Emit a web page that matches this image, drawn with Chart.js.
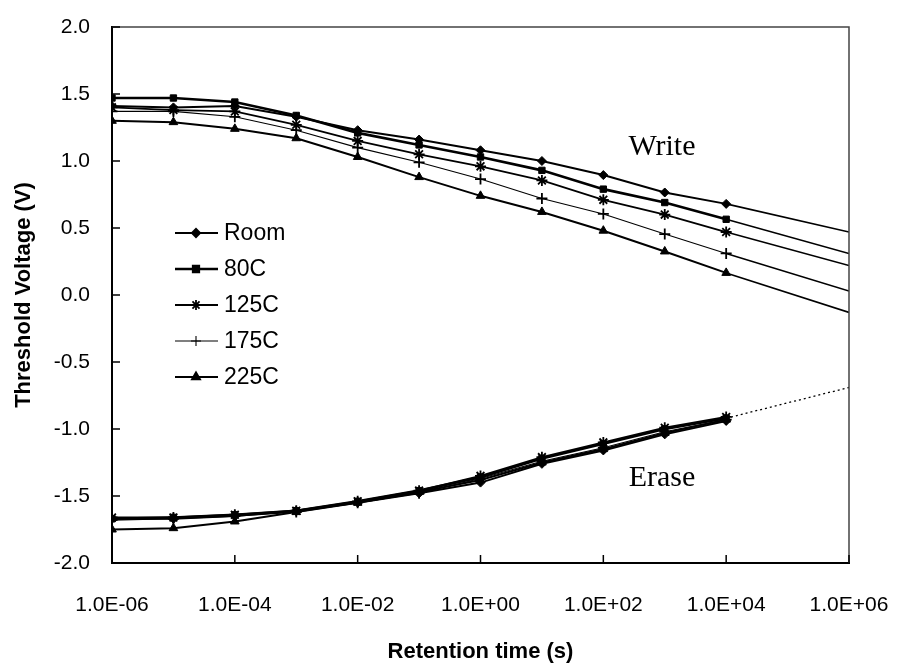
<!DOCTYPE html>
<html>
<head>
<meta charset="utf-8">
<title>Threshold voltage retention</title>
<script src="https://cdn.jsdelivr.net/npm/chart.js@4.4.0/dist/chart.umd.min.js"></script>
<style>
  html, body { margin: 0; padding: 0; background: #fff; }
  #chart { display: block; }
</style>
</head>
<body>
<canvas id="chart" width="900" height="671"></canvas>
<script>
// Retention times (s) at which Vt was read
const times = [1e-6, 1e-5, 1e-4, 1e-3, 1e-2, 1e-1, 1, 10, 100, 1000, 1e4];
const temps = ['Room', '80C', '125C', '175C', '225C'];

// Written-state threshold voltage (V)
const writeRoom = [1.41, 1.40, 1.41, 1.33, 1.23, 1.16, 1.08, 1.00, 0.895, 0.765, 0.68];
const write80 = [1.47, 1.47, 1.44, 1.34, 1.21, 1.12, 1.03, 0.93, 0.79, 0.69, 0.565];
const write125 = [1.40, 1.38, 1.37, 1.27, 1.15, 1.05, 0.96, 0.855, 0.71, 0.60, 0.47];
const write175 = [1.37, 1.37, 1.33, 1.23, 1.10, 0.99, 0.865, 0.72, 0.605, 0.455, 0.31];
const write225 = [1.30, 1.29, 1.24, 1.17, 1.03, 0.88, 0.74, 0.62, 0.48, 0.325, 0.165];

// Erased-state threshold voltage (V)
const eraseRoom = [-1.67, -1.67, -1.65, -1.61, -1.55, -1.48, -1.40, -1.26, -1.16, -1.04, -0.94];
const erase80 = [-1.67, -1.66, -1.64, -1.61, -1.54, -1.46, -1.36, -1.22, -1.11, -1.00, -0.92];
const erase125 = [-1.66, -1.66, -1.64, -1.61, -1.54, -1.46, -1.35, -1.21, -1.10, -0.99, -0.91];
const erase175 = [-1.68, -1.67, -1.65, -1.62, -1.55, -1.48, -1.37, -1.24, -1.14, -1.02, -0.93];
const erase225 = [-1.75, -1.74, -1.69, -1.62, -1.55, -1.47, -1.38, -1.25, -1.15, -1.03, -0.93];

// Extrapolation out to 1e6 s
const trendTimes = [1e4, 1e6];
const writeTrend = [[0.68, 0.47], [0.565, 0.31], [0.47, 0.22], [0.31, 0.03], [0.165, -0.13]];
const eraseTrend = [-0.92, -0.69];

const xTicks = [1e-6, 1e-4, 1e-2, 1, 1e2, 1e4, 1e6];
const yTicks = [-2.0, -1.5, -1.0, -0.5, 0.0, 0.5, 1.0, 1.5, 2.0];

const writeSets = [writeRoom, write80, write125, write175, write225];
const eraseSets = [eraseRoom, erase80, erase125, erase175, erase225];

// marker / line look per temperature
const styles = [
  { pointStyle: 'rectRot', radius: 4.5, lineWidth: 2 },
  { pointStyle: 'rect', radius: 4.5, lineWidth: 2.6 },
  { pointStyle: 'star', radius: 5.5, lineWidth: 1.8 },
  { pointStyle: 'cross', radius: 5.5, lineWidth: 1.1 },
  { pointStyle: 'triangle', radius: 5, lineWidth: 2 }
];

const SANS = '"Liberation Sans", Arial, sans-serif';
const SERIF = '"Liberation Serif", "Times New Roman", serif';

function toPoints(xs, ys) {
  return xs.map((x, i) => ({ x: x, y: ys[i] }));
}

function seriesDataset(label, values, s) {
  return {
    label: label,
    data: toPoints(times, values),
    borderColor: '#000',
    backgroundColor: '#000',
    borderWidth: s.lineWidth,
    pointStyle: s.pointStyle,
    pointRadius: s.radius,
    pointBorderWidth: s.pointStyle === 'star' || s.pointStyle === 'cross' ? 1.8 : 1,
    pointBackgroundColor: '#000',
    pointBorderColor: '#000',
    tension: 0
  };
}

const datasets = [];
temps.forEach((t, i) => {
  datasets.push(seriesDataset(t, writeSets[i], styles[i]));
});
temps.forEach((t, i) => {
  datasets.push(seriesDataset(t + ' erase', eraseSets[i], styles[i]));
});
writeTrend.forEach((tr, i) => {
  datasets.push({
    label: temps[i] + ' trend',
    data: toPoints(trendTimes, tr),
    borderColor: '#000',
    borderWidth: 1.6,
    pointRadius: 0
  });
});
datasets.push({
  label: 'erase trend',
  data: toPoints(trendTimes, eraseTrend),
  borderColor: '#000',
  borderWidth: 1.3,
  borderDash: [2, 3],
  pointRadius: 0
});

function sciLabel(v) {
  const e = Math.round(Math.log10(v));
  const sign = e < 0 ? '-' : '+';
  const mag = String(Math.abs(e)).padStart(2, '0');
  return '1.0E' + sign + mag;
}

// frame, inward tick marks, in-plot legend and Write/Erase labels
const decorations = {
  id: 'decorations',
  afterDatasetsDraw(chart) {
    const { ctx, chartArea: a, scales } = chart;
    ctx.save();

    // top and right frame
    ctx.strokeStyle = '#444';
    ctx.lineWidth = 1.5;
    ctx.beginPath();
    ctx.moveTo(a.left, a.top);
    ctx.lineTo(a.right, a.top);
    ctx.lineTo(a.right, a.bottom);
    ctx.stroke();

    // tick marks point into the plot
    ctx.strokeStyle = '#000';
    ctx.lineWidth = 1.5;
    ctx.beginPath();
    xTicks.forEach(v => {
      const px = scales.x.getPixelForValue(v);
      ctx.moveTo(px, a.bottom);
      ctx.lineTo(px, a.bottom - 8);
    });
    yTicks.forEach(v => {
      const py = scales.y.getPixelForValue(v);
      ctx.moveTo(a.left, py);
      ctx.lineTo(a.left + 8, py);
    });
    ctx.stroke();

    // legend
    const lx = a.left + 63;
    const ly = a.top + 206;
    const rowGap = 36;
    ctx.font = '23px ' + SANS;
    ctx.textBaseline = 'middle';
    ctx.textAlign = 'left';
    ctx.fillStyle = '#000';
    temps.forEach((t, i) => {
      const s = styles[i];
      const y = ly + i * rowGap;
      ctx.lineWidth = s.lineWidth;
      ctx.beginPath();
      ctx.moveTo(lx, y);
      ctx.lineTo(lx + 43, y);
      ctx.stroke();
      Chart.helpers.drawPoint(ctx, {
        pointStyle: s.pointStyle,
        radius: s.radius - 0.5,
        borderWidth: s.pointStyle === 'star' || s.pointStyle === 'cross' ? 1.6 : 1,
        rotation: 0
      }, lx + 21, y);
      if (s.pointStyle !== 'star' && s.pointStyle !== 'cross') ctx.fill();
      ctx.fillText(t, lx + 49, y + 1);
    });

    // state labels
    ctx.font = '30px ' + SERIF;
    ctx.textAlign = 'center';
    ctx.fillText('Write', scales.x.getPixelForValue(900), scales.y.getPixelForValue(1.10));
    ctx.fillText('Erase', scales.x.getPixelForValue(900), scales.y.getPixelForValue(-1.365));
    ctx.restore();
  }
};

new Chart(document.getElementById('chart'), {
  type: 'line',
  data: { datasets: datasets },
  options: {
    responsive: false,
    animation: false,
    devicePixelRatio: 1,
    layout: { padding: { left: 0, right: 51, top: 27, bottom: 0 } },
    plugins: {
      legend: { display: false },
      tooltip: { enabled: false },
      title: { display: false }
    },
    scales: {
      x: {
        type: 'logarithmic',
        min: 1e-6,
        max: 1e6,
        afterBuildTicks: scale => {
          scale.ticks = xTicks.map(v => ({ value: v, major: true }));
        },
        afterFit: scale => {
          scale.height = 108;
          scale.paddingLeft = 0;
          scale.paddingRight = 0;
        },
        grid: { display: false, drawTicks: false },
        border: { display: true, color: '#000', width: 2 },
        ticks: {
          autoSkip: false,
          maxRotation: 0,
          padding: 30,
          color: '#000',
          font: { family: SANS, size: 21 },
          callback: v => sciLabel(v)
        },
        title: {
          display: true,
          text: 'Retention time (s)',
          color: '#000',
          font: { family: SANS, size: 22, weight: 'bold' },
          padding: { top: 0, bottom: 6 }
        }
      },
      y: {
        min: -2,
        max: 2,
        afterBuildTicks: scale => {
          scale.ticks = yTicks.map(v => ({ value: v }));
        },
        afterFit: scale => {
          scale.width = 112;
          scale.paddingTop = 0;
          scale.paddingBottom = 0;
        },
        grid: { display: false, drawTicks: false },
        border: { display: true, color: '#000', width: 2 },
        ticks: {
          padding: 22,
          color: '#000',
          font: { family: SANS, size: 21 },
          callback: v => v.toFixed(1)
        },
        title: {
          display: true,
          text: 'Threshold Voltage (V)',
          color: '#000',
          font: { family: SANS, size: 22, weight: 'bold' },
          padding: { top: 11, bottom: 0 }
        }
      }
    }
  },
  plugins: [decorations]
});
</script>
</body>
</html>
